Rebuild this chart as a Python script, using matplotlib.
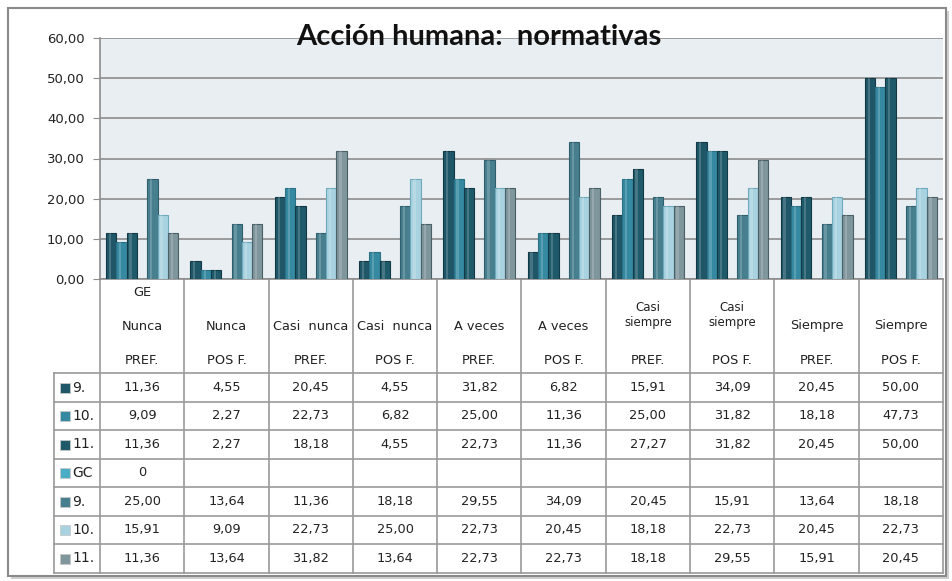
import numpy as np
import matplotlib.pyplot as plt
from matplotlib.patches import Rectangle
from matplotlib.ticker import FuncFormatter

cats = ["Nunca", "Nunca", "Casi  nunca", "Casi  nunca", "A veces", "A veces",
        "Casi\nsiempre", "Casi\nsiempre", "Siempre", "Siempre"]
phase = ["PREF.", "POS F."] * 5
series = ["9.", "10.", "11.", "GC", "9.", "10.", "11."]

s9a = [11.36, 4.55, 20.45, 4.55, 31.82, 6.82, 15.91, 34.09, 20.45, 50.00]
s10a = [9.09, 2.27, 22.73, 6.82, 25.00, 11.36, 25.00, 31.82, 18.18, 47.73]
s11a = [11.36, 2.27, 18.18, 4.55, 22.73, 11.36, 27.27, 31.82, 20.45, 50.00]
gc = [0, np.nan, np.nan, np.nan, np.nan, np.nan, np.nan, np.nan, np.nan, np.nan]
s9b = [25.00, 13.64, 11.36, 18.18, 29.55, 34.09, 20.45, 15.91, 13.64, 18.18]
s10b = [15.91, 9.09, 22.73, 25.00, 22.73, 20.45, 18.18, 22.73, 20.45, 22.73]
s11b = [11.36, 13.64, 31.82, 13.64, 22.73, 22.73, 18.18, 29.55, 15.91, 20.45]

values = [s9a, s10a, s11a, gc, s9b, s10b, s11b]
colors = ["#1f5768", "#3589a0", "#1f5a6b", "#4bacc6", "#487f8f", "#a8d2e0", "#7f969d"]
edges = ["#123a46", "#2a7186", "#123a46", "#3a93ab", "#2f5e6c", "#6fa9bc", "#4a5f66"]

W, H = 953, 581
fig = plt.figure(figsize=(W / 100, H / 100), dpi=100)
fig.patch.set_facecolor("white")

# background overlay in pixel coordinates (frame + table)
bg = fig.add_axes([0, 0, 1, 1])
bg.set_xlim(0, W)
bg.set_ylim(H, 0)
bg.axis("off")
bg.add_patch(Rectangle((11, 11), 938, 568, facecolor="#d0d0d0", edgecolor="none", zorder=0))
bg.add_patch(Rectangle((8, 8), 938, 568, facecolor="white", edgecolor="#8a8a8a", lw=1.5, zorder=1))

x0, x1, y0, y1 = 100, 943, 38, 279
ax = fig.add_axes([x0 / W, 1 - y1 / H, (x1 - x0) / W, (y1 - y0) / H])
ax.set_facecolor("#e8eef2")
n = len(cats)
bw = 0.122
xc = np.arange(n) + 0.5
for j, (vals, c, ec) in enumerate(zip(values, colors, edges)):
    h = np.nan_to_num(np.array(vals, dtype=float))
    xs = xc + (j - 3) * bw
    ax.bar(xs, h, width=bw, color=c, edgecolor=ec, linewidth=0.8, zorder=3)
    # cylinder-like highlight
    ax.bar(xs - bw * 0.12, h, width=bw * 0.22, color="white", alpha=0.18, linewidth=0, zorder=4)

ax.set_xlim(0, n)
ax.set_ylim(0, 60)
ax.set_yticks(np.arange(0, 61, 10))
ax.yaxis.set_major_formatter(FuncFormatter(lambda v, p: f"{v:.2f}".replace(".", ",")))
ax.grid(axis="y", color="#8c8c8c", lw=1.2, zorder=1)
ax.set_axisbelow(True)
ax.set_xticks([])
ax.tick_params(axis="y", length=5, color="#8c8c8c", labelsize=9.5, labelcolor="#222222", pad=6)
for s in ["top", "right"]:
    ax.spines[s].set_visible(False)
ax.spines["left"].set_color("#8c8c8c")
ax.spines["bottom"].set_color("#8c8c8c")
ax.spines["left"].set_linewidth(1.2)
ax.spines["bottom"].set_linewidth(1.2)

fig.text(479 / W, 1 - 37 / H, "Acción humana:  normativas", ha="center", va="center",
         fontsize=21, fontweight="bold", family="Lato", color="#111111", zorder=10)

# data table
colw = (x1 - x0) / n
row_y = [373, 402, 430, 459, 487, 516, 544, 573]
lc = "#9a9a9a"
tfs = 9.3
tc = "#222222"
for i in range(n + 1):
    bg.plot([x0 + i * colw] * 2, [y1, row_y[-1]], color=lc, lw=1.2, zorder=2)
bg.plot([54, 54], [row_y[0], row_y[-1]], color=lc, lw=1.2, zorder=2)
for y in row_y:
    bg.plot([54, x1], [y, y], color=lc, lw=1.2, zorder=2)

for i in range(n):
    cx = x0 + (i + 0.5) * colw
    if "\n" in cats[i]:
        bg.text(cx, 315, cats[i], ha="center", va="center", fontsize=tfs - 0.8, color=tc,
                linespacing=1.25, zorder=3)
    else:
        bg.text(cx, 326, cats[i], ha="center", va="center", fontsize=tfs, color=tc, zorder=3)
    bg.text(cx, 360, phase[i], ha="center", va="center", fontsize=tfs, color=tc, zorder=3)
bg.text(x0 + 0.5 * colw, 292, "GE", ha="center", va="center", fontsize=tfs, color=tc, zorder=3)

for r, (name, vals, c) in enumerate(zip(series, values, colors)):
    yc = (row_y[r] + row_y[r + 1]) / 2
    bg.add_patch(Rectangle((60, yc - 5), 10, 10, facecolor=c, edgecolor="#c8c8c8", lw=0.6, zorder=3))
    bg.text(72, yc, name, ha="left", va="center", fontsize=tfs + 0.7, color=tc, zorder=3)
    for i, v in enumerate(vals):
        if np.isnan(v):
            continue
        s = "0" if name == "GC" else f"{v:.2f}".replace(".", ",")
        bg.text(x0 + (i + 0.5) * colw, yc, s, ha="center", va="center", fontsize=tfs,
                color=tc, zorder=3)

fig.savefig("out.png", dpi=100)
